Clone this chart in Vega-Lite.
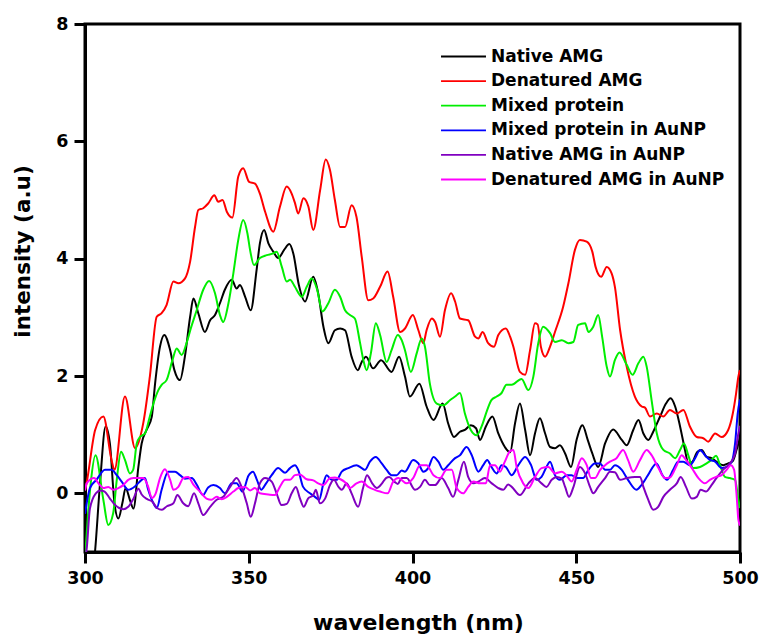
{
  "$schema": "https://vega.github.io/schema/vega-lite/v6.json",
  "autosize": {"type": "none"},
  "width": 655,
  "height": 528,
  "padding": {"left": 85, "top": 24, "right": 21, "bottom": 83},
  "background": "white",
  "datasets": {
    "native": [
      {"x":300,"y":-2.0},{"x":302,"y":-1.6},{"x":303.1,"y":-0.97},{"x":304.6,"y":0.18},{"x":306.3,"y":1.14},{"x":307.6,"y":0.85},{"x":309.0,"y":-0.17},{"x":310.2,"y":-0.43},{"x":311.4,"y":-0.17},{"x":312.4,"y":0.09},{"x":313.7,"y":-0.11},{"x":314.8,"y":-0.26},{"x":316.3,"y":0.45},{"x":317.3,"y":0.85},{"x":318.8,"y":1.08},{"x":320.4,"y":1.31},{"x":321.4,"y":1.87},{"x":322.9,"y":2.5},{"x":324.2,"y":2.7},{"x":326.0,"y":2.44},{"x":327.3,"y":2.1},{"x":329.0,"y":1.93},{"x":330.5,"y":2.33},{"x":332.1,"y":3.01},{"x":333.1,"y":3.32},{"x":334.6,"y":3.07},{"x":336.6,"y":2.75},{"x":338.2,"y":2.95},{"x":339.7,"y":3.04},{"x":341.2,"y":3.24},{"x":342.7,"y":3.47},{"x":344.8,"y":3.64},{"x":346.3,"y":3.49},{"x":347.3,"y":3.55},{"x":348.9,"y":3.35},{"x":350.6,"y":3.12},{"x":352.4,"y":3.81},{"x":353.4,"y":4.26},{"x":354.7,"y":4.49},{"x":356.0,"y":4.26},{"x":357.5,"y":4.12},{"x":359.0,"y":4.01},{"x":360.8,"y":4.15},{"x":362.4,"y":4.25},{"x":363.6,"y":4.09},{"x":365.3,"y":3.55},{"x":367.2,"y":3.27},{"x":369.7,"y":3.69},{"x":371.2,"y":3.41},{"x":372.8,"y":2.84},{"x":374.3,"y":2.56},{"x":376.3,"y":2.78},{"x":377.9,"y":2.81},{"x":379.4,"y":2.78},{"x":381.4,"y":2.33},{"x":383.3,"y":2.1},{"x":384.5,"y":2.24},{"x":385.8,"y":2.33},{"x":388.0,"y":2.13},{"x":390.4,"y":2.27},{"x":393.6,"y":2.07},{"x":395.9,"y":2.33},{"x":397.7,"y":1.99},{"x":399.2,"y":1.65},{"x":402.1,"y":1.87},{"x":404.3,"y":1.48},{"x":406.4,"y":1.25},{"x":409.2,"y":1.53},{"x":410.9,"y":1.19},{"x":412.7,"y":0.96},{"x":414.5,"y":1.05},{"x":416.0,"y":1.08},{"x":417.8,"y":1.16},{"x":419.4,"y":1.11},{"x":420.6,"y":0.91},{"x":422.4,"y":1.14},{"x":424.4,"y":1.31},{"x":426.2,"y":1.02},{"x":428.2,"y":0.79},{"x":429.8,"y":0.7},{"x":431.3,"y":1.19},{"x":432.8,"y":1.53},{"x":434.4,"y":1.08},{"x":435.9,"y":0.65},{"x":437.4,"y":1.02},{"x":438.9,"y":1.28},{"x":440.5,"y":1.02},{"x":442.0,"y":0.79},{"x":443.5,"y":0.77},{"x":445.0,"y":0.82},{"x":446.6,"y":0.68},{"x":448.4,"y":0.45},{"x":450.1,"y":0.91},{"x":451.9,"y":1.16},{"x":453.5,"y":0.91},{"x":454.9,"y":0.68},{"x":456.7,"y":0.45},{"x":458.8,"y":0.85},{"x":461.3,"y":1.09},{"x":463.9,"y":0.91},{"x":465.4,"y":0.82},{"x":467.4,"y":1.08},{"x":469.0,"y":1.25},{"x":470.5,"y":1.02},{"x":472.0,"y":0.91},{"x":473.5,"y":1.05},{"x":475.6,"y":1.31},{"x":477.4,"y":1.53},{"x":478.8,"y":1.62},{"x":480.2,"y":1.48},{"x":481.7,"y":1.14},{"x":483.2,"y":0.74},{"x":484.2,"y":0.51},{"x":485.5,"y":0.54},{"x":487.0,"y":0.71},{"x":488.3,"y":0.74},{"x":489.8,"y":0.62},{"x":491.3,"y":0.6},{"x":492.8,"y":0.54},{"x":494.9,"y":0.48},{"x":496.4,"y":0.51},{"x":497.8,"y":0.55},{"x":499.0,"y":0.75},{"x":500,"y":0.95}
    ],
    "denatured": [
      {"x":300,"y":0.05},{"x":300.5,"y":0.18},{"x":303.1,"y":1.08},{"x":305.6,"y":1.31},{"x":308.1,"y":0.57},{"x":309.0,"y":0.4},{"x":312.2,"y":1.65},{"x":315.3,"y":0.77},{"x":317.8,"y":1.2},{"x":319.8,"y":1.99},{"x":321.9,"y":3.01},{"x":323.4,"y":3.07},{"x":324.9,"y":3.21},{"x":327.0,"y":3.61},{"x":328.5,"y":3.58},{"x":330.5,"y":3.66},{"x":332.1,"y":3.95},{"x":333.6,"y":4.54},{"x":334.6,"y":4.83},{"x":336.1,"y":4.86},{"x":337.6,"y":4.94},{"x":339.5,"y":5.08},{"x":340.7,"y":4.97},{"x":342.0,"y":5.0},{"x":343.3,"y":4.8},{"x":345.0,"y":4.7},{"x":346.8,"y":5.4},{"x":348.3,"y":5.54},{"x":350.1,"y":5.31},{"x":351.9,"y":5.28},{"x":353.4,"y":5.11},{"x":355.0,"y":4.8},{"x":357.5,"y":4.46},{"x":359.5,"y":4.88},{"x":361.6,"y":5.23},{"x":363.1,"y":5.11},{"x":364.1,"y":4.95},{"x":365.1,"y":4.77},{"x":366.7,"y":5.03},{"x":368.2,"y":4.89},{"x":369.7,"y":4.49},{"x":371.8,"y":5.17},{"x":373.5,"y":5.69},{"x":374.8,"y":5.51},{"x":376.3,"y":5.0},{"x":377.9,"y":4.54},{"x":379.4,"y":4.54},{"x":381.4,"y":4.91},{"x":382.9,"y":4.71},{"x":384.5,"y":4.03},{"x":386.5,"y":3.29},{"x":388.0,"y":3.32},{"x":390.1,"y":3.52},{"x":392.4,"y":3.78},{"x":394.1,"y":3.35},{"x":396.2,"y":2.75},{"x":397.7,"y":2.81},{"x":400.1,"y":3.04},{"x":401.8,"y":2.78},{"x":403.3,"y":2.56},{"x":404.3,"y":2.78},{"x":405.9,"y":2.98},{"x":406.9,"y":2.92},{"x":408.4,"y":2.67},{"x":409.9,"y":3.12},{"x":411.8,"y":3.41},{"x":413.0,"y":3.27},{"x":414.5,"y":2.98},{"x":417.0,"y":2.95},{"x":419.1,"y":2.67},{"x":420.1,"y":2.64},{"x":421.4,"y":2.75},{"x":423.1,"y":2.56},{"x":424.9,"y":2.5},{"x":426.2,"y":2.7},{"x":428.5,"y":2.81},{"x":429.8,"y":2.67},{"x":430.8,"y":2.5},{"x":432.8,"y":2.07},{"x":434.4,"y":2.02},{"x":435.9,"y":2.44},{"x":437.4,"y":2.9},{"x":438.2,"y":2.88},{"x":439.2,"y":2.5},{"x":440.5,"y":2.33},{"x":442.0,"y":2.5},{"x":443.5,"y":2.75},{"x":446.0,"y":3.18},{"x":447.6,"y":3.58},{"x":449.6,"y":4.15},{"x":451.1,"y":4.32},{"x":453.2,"y":4.29},{"x":454.9,"y":4.12},{"x":455.9,"y":3.86},{"x":457.6,"y":3.69},{"x":459.3,"y":3.86},{"x":460.8,"y":3.75},{"x":461.8,"y":3.52},{"x":463.4,"y":2.78},{"x":465.4,"y":2.16},{"x":467.9,"y":1.65},{"x":470.0,"y":1.48},{"x":471.0,"y":1.46},{"x":472.5,"y":1.31},{"x":474.6,"y":1.36},{"x":476.6,"y":1.31},{"x":478.6,"y":1.42},{"x":480.7,"y":1.36},{"x":482.7,"y":1.42},{"x":484.7,"y":1.14},{"x":486.8,"y":0.96},{"x":488.8,"y":0.94},{"x":490.3,"y":0.88},{"x":492.4,"y":1.02},{"x":494.4,"y":0.96},{"x":496.4,"y":1.08},{"x":497.8,"y":1.36},{"x":498.8,"y":1.7},{"x":499.5,"y":1.99},{"x":500,"y":2.1}
    ],
    "mixed": [
      {"x":300,"y":-1.1},{"x":301.0,"y":-0.3},{"x":301.8,"y":0.2},{"x":303.2,"y":0.65},{"x":305.6,"y":-0.11},{"x":307.1,"y":-0.54},{"x":308.6,"y":-0.34},{"x":309.7,"y":0.23},{"x":311.0,"y":0.71},{"x":312.2,"y":0.57},{"x":313.7,"y":0.34},{"x":314.7,"y":0.4},{"x":315.8,"y":0.85},{"x":316.8,"y":0.96},{"x":318.3,"y":1.02},{"x":319.8,"y":1.31},{"x":320.9,"y":1.53},{"x":322.4,"y":1.76},{"x":323.4,"y":1.85},{"x":324.9,"y":1.93},{"x":326.7,"y":2.27},{"x":328.0,"y":2.47},{"x":329.5,"y":2.36},{"x":331.0,"y":2.56},{"x":332.3,"y":2.81},{"x":334.1,"y":3.12},{"x":336.1,"y":3.47},{"x":337.9,"y":3.62},{"x":339.7,"y":3.41},{"x":341.2,"y":3.04},{"x":342.2,"y":2.92},{"x":343.8,"y":3.24},{"x":345.3,"y":3.75},{"x":346.8,"y":4.32},{"x":348.3,"y":4.66},{"x":349.6,"y":4.43},{"x":350.4,"y":4.15},{"x":351.6,"y":3.89},{"x":353.4,"y":4.01},{"x":355.5,"y":4.06},{"x":357.5,"y":4.09},{"x":358.5,"y":4.12},{"x":360.1,"y":3.86},{"x":361.6,"y":3.61},{"x":362.6,"y":3.64},{"x":364.1,"y":3.52},{"x":365.6,"y":3.38},{"x":366.2,"y":3.35},{"x":367.7,"y":3.52},{"x":369.2,"y":3.66},{"x":370.8,"y":3.49},{"x":372.5,"y":3.1},{"x":374.3,"y":3.24},{"x":376.3,"y":3.47},{"x":377.9,"y":3.35},{"x":379.4,"y":3.12},{"x":380.9,"y":3.04},{"x":382.4,"y":2.98},{"x":384.0,"y":2.56},{"x":385.0,"y":2.27},{"x":386.0,"y":2.1},{"x":387.3,"y":2.39},{"x":388.8,"y":2.9},{"x":390.1,"y":2.7},{"x":392.1,"y":2.24},{"x":393.6,"y":2.44},{"x":395.5,"y":2.7},{"x":396.7,"y":2.61},{"x":397.7,"y":2.44},{"x":399.5,"y":2.07},{"x":401.3,"y":2.39},{"x":402.8,"y":2.64},{"x":403.8,"y":2.5},{"x":405.3,"y":1.87},{"x":407.4,"y":1.53},{"x":409.4,"y":1.5},{"x":411.5,"y":1.59},{"x":413.0,"y":1.65},{"x":414.5,"y":1.71},{"x":416.0,"y":1.36},{"x":417.8,"y":1.08},{"x":419.6,"y":0.99},{"x":421.1,"y":1.14},{"x":422.8,"y":1.42},{"x":424.1,"y":1.59},{"x":425.7,"y":1.65},{"x":427.2,"y":1.71},{"x":428.7,"y":1.85},{"x":430.3,"y":1.85},{"x":433.3,"y":1.95},{"x":435.4,"y":1.76},{"x":436.9,"y":1.99},{"x":438.4,"y":2.56},{"x":439.9,"y":2.84},{"x":442.0,"y":2.73},{"x":443.5,"y":2.58},{"x":445.6,"y":2.61},{"x":447.6,"y":2.56},{"x":449.1,"y":2.58},{"x":450.6,"y":2.87},{"x":452.7,"y":2.9},{"x":453.7,"y":2.75},{"x":455.2,"y":2.84},{"x":456.7,"y":3.04},{"x":457.9,"y":2.67},{"x":459.3,"y":2.16},{"x":460.3,"y":1.99},{"x":461.8,"y":2.27},{"x":463.2,"y":2.4},{"x":465.4,"y":2.19},{"x":467.2,"y":2.02},{"x":469.0,"y":2.22},{"x":470.5,"y":2.33},{"x":471.5,"y":2.16},{"x":473.0,"y":1.59},{"x":474.6,"y":1.02},{"x":476.6,"y":0.74},{"x":478.6,"y":0.68},{"x":480.2,"y":0.6},{"x":481.7,"y":0.74},{"x":482.9,"y":0.85},{"x":484.2,"y":0.65},{"x":485.7,"y":0.43},{"x":487.8,"y":0.45},{"x":489.8,"y":0.51},{"x":491.3,"y":0.57},{"x":492.7,"y":0.64},{"x":493.9,"y":0.48},{"x":495.4,"y":0.28},{"x":496.9,"y":0.26},{"x":498.5,"y":0.23},{"x":499.5,"y":-0.11},{"x":500,"y":-0.25}
    ],
    "mixedAu": [
      {"x":300,"y":-0.35},{"x":301.5,"y":0.09},{"x":303.5,"y":0.23},{"x":306.1,"y":0.4},{"x":308.1,"y":0.4},{"x":309.7,"y":0.31},{"x":311.2,"y":0.2},{"x":313.2,"y":0.06},{"x":315.3,"y":0.12},{"x":317.3,"y":0.23},{"x":318.3,"y":0.26},{"x":319.3,"y":0.06},{"x":320.9,"y":-0.17},{"x":321.9,"y":-0.25},{"x":323.4,"y":0.06},{"x":325.4,"y":0.37},{"x":327.5,"y":0.37},{"x":329.0,"y":0.31},{"x":330.5,"y":0.25},{"x":332.6,"y":0.26},{"x":334.1,"y":0.15},{"x":336.0,"y":-0.03},{"x":337.6,"y":0.1},{"x":339.2,"y":0.14},{"x":341.2,"y":0.09},{"x":342.7,"y":0.0},{"x":344.8,"y":0.17},{"x":346.3,"y":0.17},{"x":348.1,"y":0.03},{"x":349.9,"y":0.3},{"x":351.3,"y":0.37},{"x":352.5,"y":0.23},{"x":353.8,"y":0.06},{"x":355.3,"y":0.17},{"x":357.0,"y":0.31},{"x":359.0,"y":0.43},{"x":361.1,"y":0.35},{"x":362.6,"y":0.43},{"x":364.1,"y":0.48},{"x":365.1,"y":0.4},{"x":366.6,"y":0.11},{"x":368.7,"y":0.0},{"x":370.2,"y":-0.06},{"x":371.5,"y":-0.11},{"x":372.8,"y":0.17},{"x":373.8,"y":0.31},{"x":375.3,"y":0.23},{"x":376.8,"y":0.23},{"x":378.4,"y":0.37},{"x":380.4,"y":0.43},{"x":382.9,"y":0.48},{"x":384.5,"y":0.43},{"x":385.5,"y":0.4},{"x":387.0,"y":0.54},{"x":388.8,"y":0.62},{"x":390.6,"y":0.51},{"x":392.1,"y":0.4},{"x":393.6,"y":0.31},{"x":395.2,"y":0.31},{"x":396.7,"y":0.39},{"x":397.7,"y":0.37},{"x":400.2,"y":0.57},{"x":401.8,"y":0.51},{"x":403.3,"y":0.37},{"x":404.8,"y":0.43},{"x":406.4,"y":0.62},{"x":407.9,"y":0.54},{"x":409.4,"y":0.4},{"x":410.9,"y":0.48},{"x":413.0,"y":0.6},{"x":414.5,"y":0.65},{"x":416.5,"y":0.79},{"x":418.1,"y":0.65},{"x":420.1,"y":0.37},{"x":421.6,"y":0.48},{"x":422.8,"y":0.57},{"x":424.1,"y":0.45},{"x":425.7,"y":0.34},{"x":427.2,"y":0.48},{"x":428.5,"y":0.45},{"x":430.3,"y":0.31},{"x":432.3,"y":0.48},{"x":434.4,"y":0.62},{"x":436.2,"y":0.48},{"x":437.9,"y":0.23},{"x":439.4,"y":0.28},{"x":440.9,"y":0.45},{"x":442.0,"y":0.54},{"x":443.5,"y":0.31},{"x":445.0,"y":0.23},{"x":447.1,"y":0.31},{"x":448.6,"y":0.31},{"x":450.1,"y":0.26},{"x":452.1,"y":0.26},{"x":453.7,"y":0.4},{"x":455.7,"y":0.51},{"x":457.3,"y":0.51},{"x":458.8,"y":0.4},{"x":460.3,"y":0.4},{"x":461.8,"y":0.48},{"x":463.9,"y":0.4},{"x":465.8,"y":0.23},{"x":468.4,"y":0.06},{"x":469.9,"y":0.14},{"x":471.9,"y":0.31},{"x":474.5,"y":0.51},{"x":476.3,"y":0.31},{"x":477.7,"y":0.23},{"x":479.6,"y":0.4},{"x":481.1,"y":0.54},{"x":482.7,"y":0.54},{"x":484.7,"y":0.48},{"x":486.3,"y":0.6},{"x":487.8,"y":0.74},{"x":489.3,"y":0.65},{"x":490.8,"y":0.57},{"x":492.4,"y":0.54},{"x":494.4,"y":0.43},{"x":495.9,"y":0.45},{"x":497.5,"y":0.54},{"x":498.5,"y":0.85},{"x":499.3,"y":1.36},{"x":500,"y":1.6}
    ],
    "nativeAu": [
      {"x":300,"y":-1.1},{"x":300.5,"y":-0.95},{"x":301.5,"y":-0.26},{"x":303.3,"y":0.0},{"x":304.7,"y":0.05},{"x":306.0,"y":0.03},{"x":307.5,"y":-0.08},{"x":309.2,"y":-0.2},{"x":311.7,"y":-0.27},{"x":313.2,"y":-0.23},{"x":314.8,"y":-0.09},{"x":316.3,"y":0.08},{"x":317.3,"y":-0.02},{"x":319.0,"y":-0.1},{"x":320.5,"y":-0.14},{"x":322.0,"y":-0.25},{"x":323.5,"y":-0.28},{"x":325.0,"y":-0.22},{"x":327.0,"y":-0.17},{"x":328.2,"y":-0.03},{"x":330.0,"y":-0.17},{"x":331.5,"y":-0.22},{"x":333.3,"y":0.0},{"x":334.6,"y":-0.17},{"x":336.1,"y":-0.37},{"x":338.2,"y":-0.23},{"x":340.2,"y":-0.11},{"x":342.2,"y":-0.06},{"x":344.3,"y":0.11},{"x":346.3,"y":0.26},{"x":347.8,"y":0.11},{"x":349.4,"y":-0.17},{"x":350.6,"y":-0.4},{"x":351.9,"y":-0.17},{"x":353.4,"y":0.17},{"x":355.0,"y":0.26},{"x":357.0,"y":0.2},{"x":358.5,"y":0.0},{"x":360.0,"y":-0.2},{"x":361.6,"y":-0.18},{"x":363.1,"y":0.0},{"x":364.4,"y":0.11},{"x":365.6,"y":-0.08},{"x":366.8,"y":-0.23},{"x":368.1,"y":-0.09},{"x":369.7,"y":-0.03},{"x":370.5,"y":0.06},{"x":371.7,"y":-0.17},{"x":373.3,"y":-0.09},{"x":374.8,"y":0.14},{"x":376.0,"y":0.23},{"x":377.4,"y":0.11},{"x":378.4,"y":0.06},{"x":379.9,"y":0.17},{"x":381.4,"y":0.0},{"x":383.4,"y":-0.23},{"x":384.9,"y":0.09},{"x":386.1,"y":0.31},{"x":387.7,"y":0.17},{"x":389.1,"y":0.09},{"x":390.7,"y":0.17},{"x":391.9,"y":0.26},{"x":392.9,"y":0.28},{"x":394.4,"y":0.2},{"x":395.5,"y":0.16},{"x":396.7,"y":0.26},{"x":398.2,"y":0.26},{"x":400.8,"y":0.06},{"x":402.3,"y":0.11},{"x":403.8,"y":0.23},{"x":405.3,"y":0.14},{"x":406.9,"y":0.14},{"x":408.9,"y":0.26},{"x":410.9,"y":0.09},{"x":412.4,"y":-0.06},{"x":414.0,"y":0.23},{"x":415.7,"y":0.54},{"x":417.0,"y":0.28},{"x":418.6,"y":0.17},{"x":420.1,"y":0.2},{"x":422.1,"y":0.26},{"x":424.2,"y":0.17},{"x":426.2,"y":0.09},{"x":427.7,"y":0.06},{"x":429.2,"y":0.15},{"x":430.3,"y":0.11},{"x":432.8,"y":-0.03},{"x":435.4,"y":0.17},{"x":437.4,"y":0.26},{"x":439.4,"y":0.17},{"x":440.9,"y":0.11},{"x":442.5,"y":0.23},{"x":444.0,"y":0.28},{"x":445.6,"y":0.25},{"x":446.6,"y":0.11},{"x":447.8,"y":-0.06},{"x":449.1,"y":0.1},{"x":451.1,"y":0.45},{"x":452.7,"y":0.34},{"x":454.2,"y":0.11},{"x":455.2,"y":0.0},{"x":456.7,"y":0.11},{"x":458.8,"y":0.26},{"x":460.3,"y":0.37},{"x":461.8,"y":0.36},{"x":463.4,"y":0.23},{"x":465.4,"y":0.26},{"x":467.9,"y":0.28},{"x":469.5,"y":0.28},{"x":470.5,"y":0.11},{"x":472.0,"y":-0.11},{"x":473.5,"y":-0.28},{"x":475.0,"y":-0.23},{"x":476.6,"y":-0.06},{"x":478.6,"y":0.06},{"x":480.7,"y":0.17},{"x":481.9,"y":0.28},{"x":483.5,"y":0.11},{"x":485.3,"y":-0.09},{"x":486.8,"y":-0.06},{"x":488.0,"y":0.06},{"x":489.6,"y":0.03},{"x":491.3,"y":0.14},{"x":492.8,"y":0.26},{"x":494.8,"y":0.4},{"x":496.9,"y":0.51},{"x":498.5,"y":0.68},{"x":499.5,"y":1.02},{"x":500,"y":1.15}
    ],
    "denaturedAu": [
      {"x":300,"y":0.05},{"x":300.5,"y":0.17},{"x":302.8,"y":0.26},{"x":304.1,"y":0.17},{"x":305.6,"y":0.09},{"x":307.1,"y":0.11},{"x":308.6,"y":0.06},{"x":310.2,"y":0.09},{"x":311.7,"y":0.14},{"x":313.2,"y":0.23},{"x":314.8,"y":0.26},{"x":316.3,"y":0.26},{"x":317.8,"y":0.26},{"x":319.3,"y":0.11},{"x":320.4,"y":-0.08},{"x":321.6,"y":0.0},{"x":322.9,"y":0.26},{"x":324.4,"y":0.41},{"x":326.0,"y":0.23},{"x":327.0,"y":0.06},{"x":328.5,"y":0.11},{"x":330.0,"y":0.26},{"x":331.5,"y":0.28},{"x":333.1,"y":0.15},{"x":335.1,"y":0.03},{"x":337.1,"y":-0.09},{"x":338.6,"y":-0.11},{"x":340.2,"y":-0.06},{"x":341.7,"y":-0.1},{"x":343.3,"y":-0.06},{"x":345.3,"y":0.03},{"x":346.8,"y":0.09},{"x":348.9,"y":0.11},{"x":350.4,"y":0.05},{"x":351.9,"y":0.09},{"x":353.4,"y":0.0},{"x":356.0,"y":-0.02},{"x":358.0,"y":-0.03},{"x":359.5,"y":0.11},{"x":361.1,"y":0.23},{"x":362.6,"y":0.23},{"x":364.1,"y":0.31},{"x":365.6,"y":0.32},{"x":367.7,"y":0.24},{"x":369.7,"y":0.22},{"x":371.2,"y":0.17},{"x":372.8,"y":0.14},{"x":374.8,"y":0.26},{"x":376.3,"y":0.27},{"x":378.0,"y":0.24},{"x":379.4,"y":0.19},{"x":380.9,"y":0.09},{"x":382.9,"y":0.17},{"x":384.5,"y":0.2},{"x":386.5,"y":0.11},{"x":388.5,"y":0.06},{"x":390.1,"y":0.03},{"x":392.4,"y":0.0},{"x":394.1,"y":0.2},{"x":395.7,"y":0.26},{"x":398.2,"y":0.17},{"x":400.2,"y":0.26},{"x":402.3,"y":0.48},{"x":404.3,"y":0.48},{"x":406.4,"y":0.31},{"x":408.4,"y":0.26},{"x":410.4,"y":0.4},{"x":412.0,"y":0.4},{"x":413.5,"y":0.09},{"x":415.5,"y":0.0},{"x":417.0,"y":0.11},{"x":418.6,"y":0.2},{"x":420.6,"y":0.17},{"x":422.4,"y":0.17},{"x":423.7,"y":0.48},{"x":425.2,"y":0.48},{"x":426.7,"y":0.37},{"x":428.2,"y":0.54},{"x":429.8,"y":0.72},{"x":430.8,"y":0.74},{"x":431.8,"y":0.45},{"x":433.8,"y":0.17},{"x":435.4,"y":0.09},{"x":437.4,"y":0.28},{"x":439.4,"y":0.43},{"x":441.5,"y":0.45},{"x":443.5,"y":0.34},{"x":445.6,"y":0.37},{"x":447.1,"y":0.3},{"x":448.6,"y":0.2},{"x":450.1,"y":0.4},{"x":451.7,"y":0.6},{"x":453.2,"y":0.48},{"x":454.5,"y":0.26},{"x":455.7,"y":0.26},{"x":457.3,"y":0.4},{"x":458.8,"y":0.48},{"x":460.3,"y":0.54},{"x":462.3,"y":0.6},{"x":464.3,"y":0.74},{"x":465.8,"y":0.57},{"x":467.4,"y":0.37},{"x":469.5,"y":0.57},{"x":471.5,"y":0.74},{"x":473.0,"y":0.65},{"x":475.1,"y":0.43},{"x":477.1,"y":0.26},{"x":478.6,"y":0.27},{"x":480.7,"y":0.48},{"x":482.2,"y":0.65},{"x":483.5,"y":0.57},{"x":485.3,"y":0.43},{"x":487.3,"y":0.26},{"x":489.3,"y":0.17},{"x":490.8,"y":0.23},{"x":492.7,"y":0.28},{"x":494.4,"y":0.31},{"x":495.9,"y":0.4},{"x":497.2,"y":0.48},{"x":498.2,"y":0.4},{"x":499.0,"y":-0.06},{"x":499.5,"y":-0.45},{"x":500,"y":-0.55}
    ]
  },
  "encoding": {
    "x": {
      "field": "x", "type": "quantitative",
      "scale": {"domain": [300, 500], "nice": false, "zero": false},
      "axis": {"values": [300, 350, 400, 450, 500], "labelFlush": false, "title": "wavelength (nm)", "titlePadding": 26, "titleX": 333, "titleFontSize": 22}
    },
    "y": {
      "field": "y", "type": "quantitative",
      "scale": {"domain": [-1, 8], "nice": false, "zero": false},
      "axis": {"values": [0, 2, 4, 6, 8], "labelFlush": false, "title": "intensity (a.u)", "titlePadding": 21, "titleY": 227, "titleFontSize": 21.5}
    }
  },
  "layer": [
    {"data": {"name": "native"}, "mark": {"type": "line", "interpolate": "monotone", "clip": true, "strokeWidth": 2}, "encoding": {"color": {"datum": "Native AMG"}}},
    {"data": {"name": "denatured"}, "mark": {"type": "line", "interpolate": "monotone", "clip": true, "strokeWidth": 2}, "encoding": {"color": {"datum": "Denatured AMG"}}},
    {"data": {"name": "mixed"}, "mark": {"type": "line", "interpolate": "monotone", "clip": true, "strokeWidth": 2}, "encoding": {"color": {"datum": "Mixed protein"}}},
    {"data": {"name": "mixedAu"}, "mark": {"type": "line", "interpolate": "monotone", "clip": true, "strokeWidth": 2}, "encoding": {"color": {"datum": "Mixed protein in AuNP"}}},
    {"data": {"name": "nativeAu"}, "mark": {"type": "line", "interpolate": "monotone", "clip": true, "strokeWidth": 2}, "encoding": {"color": {"datum": "Native AMG in AuNP"}}},
    {"data": {"name": "denaturedAu"}, "mark": {"type": "line", "interpolate": "monotone", "clip": true, "strokeWidth": 2}, "encoding": {"color": {"datum": "Denatured AMG in AuNP"}}}
  ],
  "resolve": {"scale": {"color": "shared"}},
  "config": {
    "font": "DejaVu Sans",
    "view": {"stroke": "black", "strokeWidth": 3},
    "axis": {
      "grid": false,
      "domainColor": "black", "domainWidth": 3,
      "tickColor": "black", "tickWidth": 3, "tickSize": 11,
      "labelFont": "DejaVu Sans", "labelFontWeight": "bold", "labelFontSize": 17.5, "labelColor": "black",
      "labelPadding": 6,
      "titleFont": "DejaVu Sans", "titleFontWeight": "bold", "titleColor": "black"
    },
    "range": {
      "category": ["#000000", "#ff0000", "#00ee00", "#0000ff", "#8000c0", "#ff00ff"]
    },
    "legend": {
      "orient": "none",
      "legendX": 370,
      "legendY": 24,
      "title": null,
      "padding": 0,
      "symbolType": "M-3.6,0H3.6",
      "symbolSize": 156,
      "symbolStrokeWidth": 1.8,
      "labelFont": "DejaVu Sans",
      "labelFontWeight": "bold",
      "labelFontSize": 17,
      "labelColor": "black",
      "labelOffset": 19,
      "rowPadding": 6.6,
      "labelLimit": 400
    }
  }
}
